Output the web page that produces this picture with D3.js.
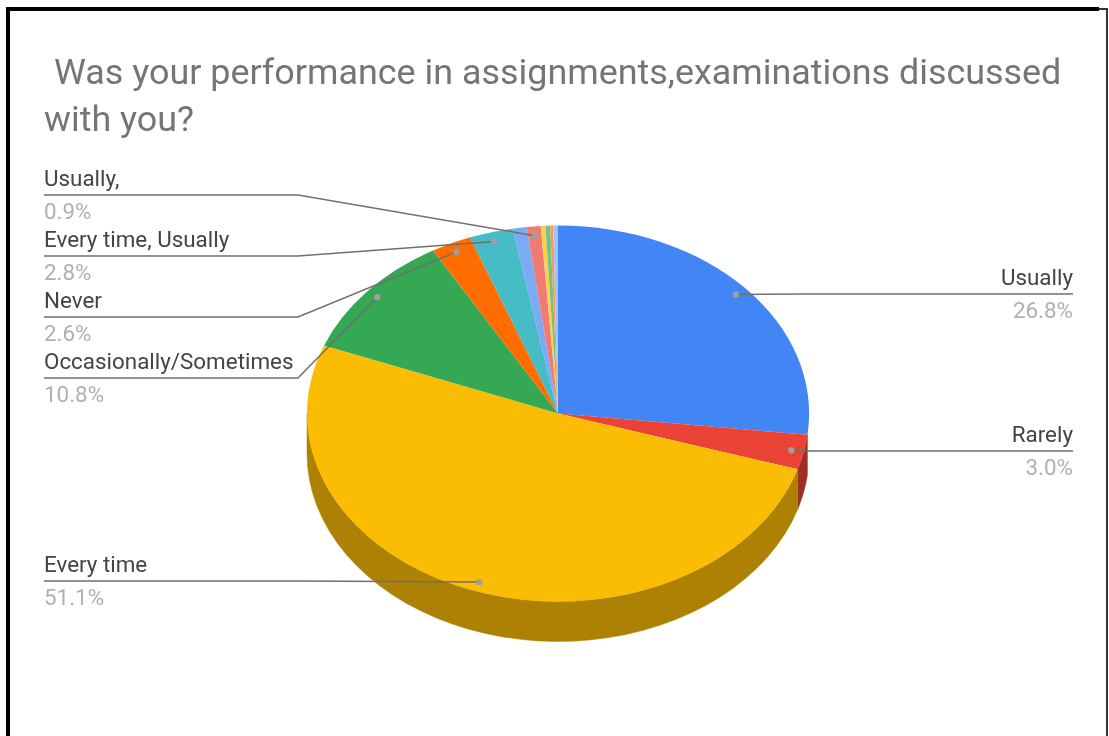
<!DOCTYPE html>
<html>
<head>
<meta charset="utf-8">
<script src="https://cdn.jsdelivr.net/npm/d3@7"></script>
<style>
  html, body { margin: 0; padding: 0; background: #fff; }
  svg { display: block; font-family: Roboto, "Liberation Sans", sans-serif; }
</style>
</head>
<body>
<div id="viz"></div>
<script>
const titleLines = ['Was your performance in assignments,examinations discussed', 'with you?'];

// slices, clockwise from 12 o'clock. The last four are too thin to carry a label
const sliceNames = ['Usually', 'Rarely', 'Every time', 'Occasionally/Sometimes', 'Never',
  'Every time, Usually', 'Occasionally', 'Usually,', 'Other 1', 'Other 2', 'Other 3', 'Other 4'];
const sliceValues = [26.8, 3.0, 51.1, 10.8, 2.6, 2.8, 0.9, 0.9, 0.3, 0.3, 0.2, 0.3];
const sliceColors = ['#4285f4', '#ea4335', '#fbbc04', '#34a853', '#ff6d01', '#46bdc6',
  '#7baaf7', '#f07b72', '#fcd04f', '#71c287', '#ff994d', '#a1c2fa'];

// which slices get a callout, and where its rule sits
const leftLabels = ['Usually,', 'Every time, Usually', 'Never', 'Occasionally/Sometimes', 'Every time'];
const leftRuleY = [195, 256, 317, 378, 581];
const rightLabels = ['Usually', 'Rarely'];
const rightRuleY = [294, 451];

const width = 1109;
const height = 736;
const cx = 558;
const cy = 413.5;
const rx = 251;
const ry = 188;
const depth = 40;
const tau = Math.PI * 2;

const svg = d3.select('#viz')
  .append('svg')
  .attr('width', width)
  .attr('height', height);

// frame, open at the bottom: heavy left and top, thin on the right
svg.append('rect').attr('x', 6).attr('y', 7).attr('width', 4).attr('height', height - 7).attr('fill', '#000');
svg.append('rect').attr('x', 6).attr('y', 7).attr('width', 1093).attr('height', 4).attr('fill', '#000');
svg.append('rect').attr('x', 1099).attr('y', 8).attr('width', 9).attr('height', 2).attr('fill', '#333');
svg.append('rect').attr('x', 1106).attr('y', 8).attr('width', 2).attr('height', height - 8).attr('fill', '#333');

// the reference is a soft screenshot, so everything but the frame gets a slight blur
const chart = svg.append('g').style('filter', 'blur(0.5px)');

chart.append('g')
  .selectAll('text')
  .data(titleLines)
  .enter()
  .append('text')
  .attr('x', (d, i) => i === 0 ? 54 : 44)
  .attr('y', (d, i) => 84 + i * 47)
  .attr('font-size', 35.9)
  .attr('fill', '#757575')
  .text(d => d);

const arcs = d3.pie().sort(null)(sliceValues);
arcs.forEach((a, i) => { a.name = sliceNames[i]; a.color = sliceColors[i]; });

const px = (angle, r = 1) => cx + rx * r * Math.sin(angle);
const py = (angle, r = 1) => cy - ry * r * Math.cos(angle);

// side wall: only slices centred on the near half of the rim show one
const wall = chart.append('g');
arcs.forEach(a => {
  const mid = (a.startAngle + a.endAngle) / 2;
  if (mid < tau / 4 || mid > tau * 3 / 4) return;
  const from = Math.max(a.startAngle, tau / 4);
  const to = Math.min(a.endAngle, tau * 3 / 4);
  const rim = d3.range(0, 41).map(k => from + (to - from) * k / 40);
  const top = rim.map(t => [px(t), py(t)]);
  const bottom = rim.slice().reverse().map(t => [px(t), py(t) + depth]);
  wall.append('path')
    .attr('d', d3.line()(top.concat(bottom)) + 'Z')
    .attr('fill', d3.color(a.color).darker(1.05))
    .attr('stroke', d3.color(a.color).darker(1.05))
    .attr('stroke-width', 0.5);
});

// top face: unit arcs squashed into the ellipse
const arcPath = d3.arc().innerRadius(0).outerRadius(1);
chart.append('g')
  .attr('transform', `translate(${cx},${cy}) scale(${rx},${ry})`)
  .selectAll('path')
  .data(arcs)
  .enter()
  .append('path')
  .attr('d', arcPath)
  .attr('fill', d => d.color);

function callout(name, ruleY, side) {
  const a = arcs.find(d => d.name === name);
  const mid = (a.startAngle + a.endAngle) / 2;
  const dot = [px(mid, 0.95), py(mid, 0.95)];
  const x0 = side === 'left' ? 44 : 1073;
  const knee = side === 'left' ? 298 : 809;
  chart.append('path')
    .attr('d', d3.line()([[x0, ruleY], [knee, ruleY], dot]))
    .attr('fill', 'none')
    .attr('stroke', '#6f6f6f')
    .attr('stroke-width', 1.5);
  chart.append('circle')
    .attr('cx', dot[0])
    .attr('cy', dot[1])
    .attr('r', 3.2)
    .attr('fill', '#9e9e9e');
  const anchor = side === 'left' ? 'start' : 'end';
  chart.append('text')
    .attr('x', x0)
    .attr('y', ruleY - 9)
    .attr('text-anchor', anchor)
    .attr('font-size', 22.4)
    .attr('fill', '#444')
    .text(name);
  chart.append('text')
    .attr('x', x0)
    .attr('y', ruleY + 24)
    .attr('text-anchor', anchor)
    .attr('font-size', 22.4)
    .attr('fill', '#b0b0b0')
    .text(d3.format('.1f')(a.value) + '%');
}

leftLabels.forEach((name, i) => callout(name, leftRuleY[i], 'left'));
rightLabels.forEach((name, i) => callout(name, rightRuleY[i], 'right'));
</script>
</body>
</html>
